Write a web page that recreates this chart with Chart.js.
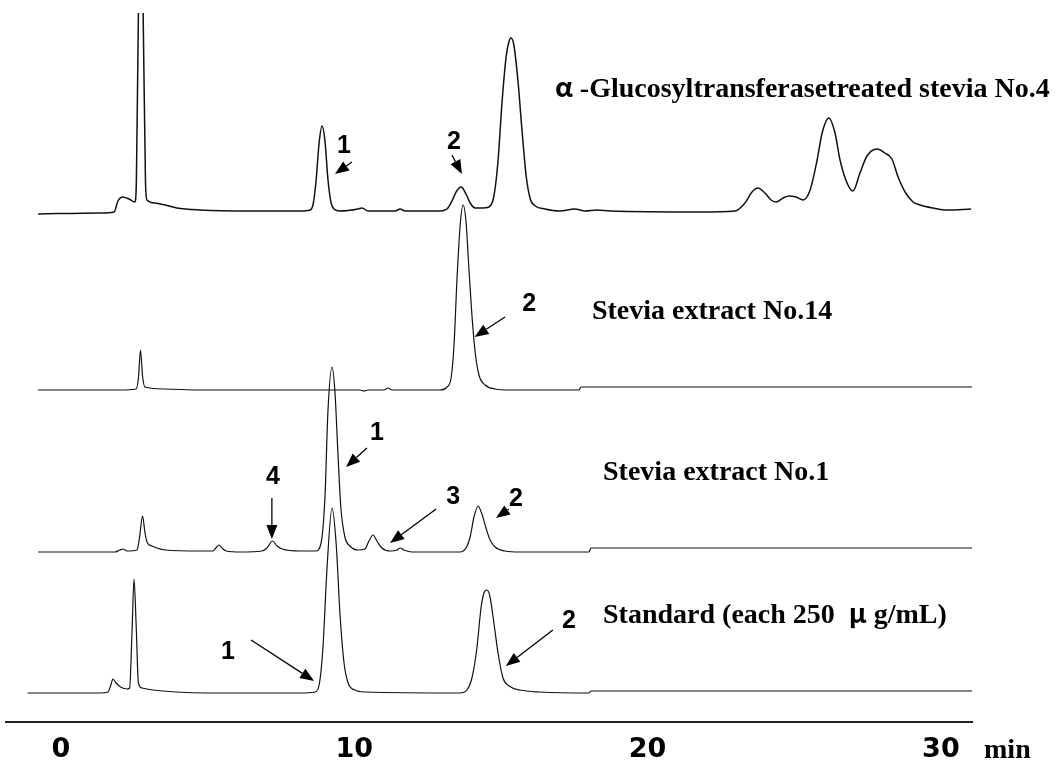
<!DOCTYPE html>
<html>
<head>
<meta charset="utf-8">
<style>
  html, body { margin: 0; padding: 0; background: #fff; }
  #wrap { width: 1059px; height: 760px; }
</style>
<script src="https://cdn.jsdelivr.net/npm/chart.js@4.4.0/dist/chart.umd.min.js"></script>
</head>
<body>
<div id="wrap"><canvas id="chrom" width="1059" height="760"></canvas></div>
<script>
// [retention time (min), signal above the trace's own baseline]
const glucoTrace = [
  [-0.78,-3],[1.33,-2],[1.81,-1],[1.94,10],[2.11,14],[2.32,12],[2.52,9],[2.57,30],[2.64,200],[2.72,300],
  [2.80,200],[2.88,30],[2.93,11],[3.20,8],[3.55,6],[3.95,3],[4.74,1],[6.44,0],[8.15,0],[8.49,1],
  [8.59,6],[8.69,28],[8.80,68],[8.90,85],[9.00,70],[9.10,32],[9.21,8],[9.31,2],[9.51,0],[10.13,2],
  [10.26,3],[10.47,0],[11.39,0],[11.56,2],[11.73,0],[12.92,0],[13.16,2],[13.33,10],[13.47,19],[13.64,24],
  [13.81,17],[13.95,8],[14.12,3],[14.36,3],[14.59,4],[14.76,15],[14.90,50],[15.04,110],[15.18,155],[15.28,170],
  [15.34,173],[15.44,166],[15.58,130],[15.72,80],[15.86,35],[16.00,12],[16.17,5],[16.50,2],[17.01,0],[17.52,2],
  [17.87,0],[18.27,1],[18.72,0],[21.79,-1],[22.98,0],[23.32,8],[23.56,19],[23.76,23],[24.00,18],[24.21,11],
  [24.38,9],[24.62,13],[24.82,15],[25.06,14],[25.30,11],[25.54,21],[25.78,51],[25.95,78],[26.18,93],[26.39,78],
  [26.56,51],[26.80,28],[27.00,20],[27.24,38],[27.48,55],[27.82,62],[28.09,58],[28.33,52],[28.54,34],[28.78,19],
  [29.05,9],[29.29,6],[29.73,3],[30.21,1],[31.03,2]
];
const extract14Trace = [
  [-0.78,0],[1.98,0],[2.56,1],[2.64,12],[2.71,40],[2.78,14],[2.86,3],[3.53,1],[4.74,0],[10.19,0],
  [10.33,-1],[10.47,0],[11.01,0],[11.15,2],[11.29,0],[12.92,0],[13.16,3],[13.30,12],[13.40,45],[13.50,110],
  [13.61,165],[13.71,185],[13.81,168],[13.91,120],[14.01,75],[14.12,38],[14.25,15],[14.46,5],[14.80,1],[15.31,0],
  [17.66,0],[17.73,3],[31.06,3]
];
const extract1Trace = [
  [-0.78,0],[1.84,0],[2.01,2],[2.11,3],[2.25,1],[2.59,2],[2.68,15],[2.78,36],[2.86,20],[2.93,10],
  [3.10,6],[3.27,4],[3.55,2],[4.74,1],[5.18,1],[5.28,4],[5.38,7],[5.49,4],[5.63,1],[6.14,0],
  [6.85,1],[7.02,4],[7.21,11],[7.37,6],[7.54,3],[8.15,1],[8.69,1],[8.86,8],[9.00,55],[9.10,140],
  [9.24,185],[9.34,160],[9.44,100],[9.54,45],[9.68,15],[9.85,6],[10.13,2],[10.36,3],[10.50,11],[10.64,17],
  [10.77,11],[10.94,4],[11.22,1],[11.46,2],[11.56,4],[11.69,2],[11.97,0],[13.60,0],[13.81,4],[13.95,15],
  [14.08,35],[14.22,46],[14.35,38],[14.49,24],[14.63,12],[14.80,5],[15.14,1],[15.65,0],[18.00,0],[18.07,4],
  [31.06,4]
];
const standardTrace = [
  [-1.14,0],[1.36,0],[1.60,1],[1.70,8],[1.77,14],[1.88,10],[2.03,6],[2.25,4],[2.34,5],[2.42,60],
  [2.49,114],[2.56,70],[2.64,10],[2.76,5],[3.14,3],[3.92,1],[4.98,0],[8.15,0],[8.66,1],[8.80,8],
  [8.93,45],[9.07,125],[9.24,185],[9.38,150],[9.51,80],[9.65,30],[9.79,10],[10.02,3],[10.36,1],[13.60,0],
  [13.84,3],[14.01,15],[14.18,45],[14.32,85],[14.42,100],[14.52,103],[14.62,97],[14.76,70],[14.90,40],[15.07,15],
  [15.28,7],[15.65,3],[16.33,1],[18.00,0],[18.07,2],[31.06,2]
];

const traces = [glucoTrace, extract14Trace, extract1Trace, standardTrace];
const traceOffsets = [511, 332, 170, 29];   // vertical stacking of the four runs
const timeTicks = [0, 10, 20, 30];

const serif = 'bold 28px "Liberation Serif", "Times New Roman", serif';
const cjk = 'bold 27px "Noto Sans CJK JP", sans-serif';
const numFont = 'bold 25px "Liberation Sans", Arial, sans-serif';

const traceNames = [
  { at: [16.84, 625], parts: [['α', cjk], [' -Glucosyltransferasetreated stevia No.4', serif]] },
  { at: [18.10, 403], parts: [['Stevia extract No.14', serif]] },
  { at: [18.48, 242], parts: [['Stevia extract No.1', serif]] },
  { at: [18.48, 99],  parts: [['Standard (each 250  ', serif], ['μ', cjk], [' g/mL)', serif]] }
];

// peak numbers with their arrows
const peakMarks = [
  { text: '1', at: [9.65, 576],  from: [9.92, 560],  to: [9.34, 548] },
  { text: '2', at: [13.40, 580], from: [13.33, 567], to: [13.67, 548] },
  { text: '2', at: [15.96, 418], from: [15.14, 405], to: [14.10, 385] },
  { text: '1', at: [10.77, 289], from: [10.43, 274], to: [9.72, 255] },
  { text: '4', at: [7.23, 245],  from: [7.19, 224],  to: [7.19, 183] },
  { text: '3', at: [13.37, 225], from: [12.79, 213], to: [11.22, 179] },
  { text: '2', at: [15.51, 223], from: [15.27, 213], to: [14.83, 204] },
  { text: '1', at: [5.69, 70],   from: [6.48, 82],   to: [8.63, 41] },
  { text: '2', at: [17.32, 101], from: [16.77, 92],  to: [15.17, 56] }
];

function drawArrow(ctx, x1, y1, x2, y2) {
  const ang = Math.atan2(y2 - y1, x2 - x1);
  const len = 14, half = 5.5;
  const bx = x2 - len * Math.cos(ang), by = y2 - len * Math.sin(ang);
  ctx.beginPath();
  ctx.moveTo(x1, y1);
  ctx.lineTo(bx, by);
  ctx.stroke();
  ctx.beginPath();
  ctx.moveTo(x2, y2);
  ctx.lineTo(bx + half * Math.sin(ang), by - half * Math.cos(ang));
  ctx.lineTo(bx - half * Math.sin(ang), by + half * Math.cos(ang));
  ctx.closePath();
  ctx.fill();
}

const overlay = {
  id: 'overlay',
  afterDraw(chart) {
    const { ctx, scales: { x, y } } = chart;
    ctx.save();
    ctx.fillStyle = '#000';
    ctx.strokeStyle = '#000';
    ctx.lineWidth = 1.3;

    ctx.textAlign = 'left';
    ctx.textBaseline = 'alphabetic';
    traceNames.forEach(n => {
      let px = x.getPixelForValue(n.at[0]);
      const py = y.getPixelForValue(n.at[1]);
      n.parts.forEach(([txt, font]) => {
        ctx.font = font;
        ctx.fillText(txt, px, py);
        px += ctx.measureText(txt).width;
      });
    });

    ctx.font = numFont;
    ctx.textAlign = 'center';
    ctx.textBaseline = 'middle';
    peakMarks.forEach(m => {
      ctx.fillText(m.text, x.getPixelForValue(m.at[0]), y.getPixelForValue(m.at[1]));
      drawArrow(ctx,
        x.getPixelForValue(m.from[0]), y.getPixelForValue(m.from[1]),
        x.getPixelForValue(m.to[0]), y.getPixelForValue(m.to[1]));
    });

    // unit after the last tick
    ctx.font = serif;
    ctx.textAlign = 'left';
    ctx.textBaseline = 'alphabetic';
    ctx.fillText('min', x.getPixelForValue(31.47), 758);
    ctx.restore();
  }
};

new Chart(document.getElementById('chrom'), {
  type: 'line',
  data: {
    datasets: traces.map((tr, i) => ({
      data: tr.map(([t, s]) => ({ x: t, y: s + traceOffsets[i] })),
      borderColor: '#111',
      borderWidth: i === 0 ? 1.5 : 1.2,
      pointRadius: 0,
      fill: false,
      cubicInterpolationMode: 'monotone'
    }))
  },
  options: {
    responsive: false,
    animation: false,
    layout: { padding: { left: 6, right: 87, top: 13, bottom: 0 } },
    plugins: { legend: { display: false }, tooltip: { enabled: false } },
    scales: {
      x: {
        type: 'linear',
        min: -1.875,
        max: 31.06,
        grid: { display: false, drawTicks: false },
        border: { display: true, color: '#222', width: 2 },
        afterBuildTicks: s => { s.ticks = timeTicks.map(v => ({ value: v })); },
        afterFit: s => { s.height = 38; },
        ticks: {
          autoSkip: false,
          maxRotation: 0,
          padding: 12,
          color: '#000',
          font: { family: 'DejaVu Sans', size: 27, weight: 'bold' }
        }
      },
      y: { display: false, min: 0, max: 709 }
    }
  },
  plugins: [overlay]
});
</script>
</body>
</html>
